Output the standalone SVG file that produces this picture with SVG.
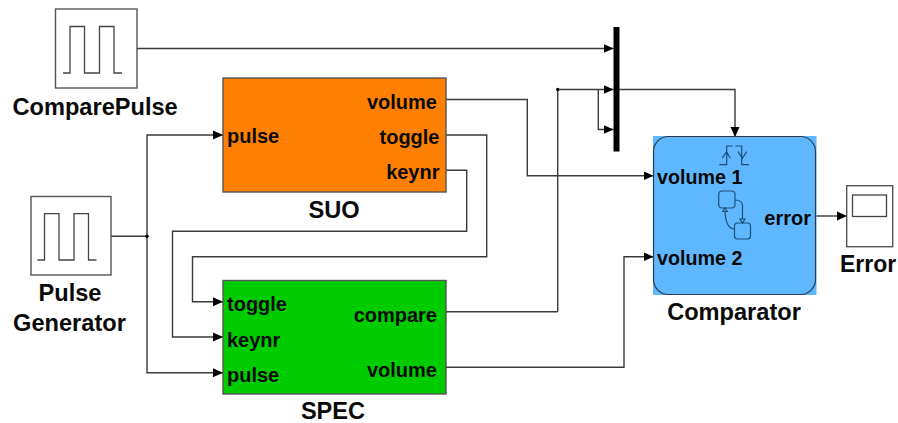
<svg xmlns="http://www.w3.org/2000/svg" width="898" height="423" viewBox="0 0 898 423">
<defs>
<marker id="arr" markerUnits="userSpaceOnUse" markerWidth="10" markerHeight="10" refX="10" refY="5" orient="auto"><path d="M0,0.5 L10,5 L0,9.5 Z" fill="#000"/></marker>
</defs>
<style>
text{font-family:"Liberation Sans",Arial,sans-serif;font-weight:bold;fill:#0a0a0a;font-size:20px}
.port{font-size:19.7px}
.lab{font-size:23.6px}
.e{text-anchor:end}
.m{text-anchor:middle}
.wire{fill:none;stroke:#3a3a3a;stroke-width:1.4}
.a{marker-end:url(#arr)}
.blk{stroke:#555;stroke-width:1.4}
.src{fill:#fff;stroke:#555;stroke-width:1.4}
.ic{fill:none;stroke:#444;stroke-width:1.3}
.sf{fill:none;stroke:#1f4f78;stroke-width:1.2}
</style>
<rect width="898" height="423" fill="#fff"/>
<g id="connectors">
<path class="wire a" d="M137,48.5H613.5"/>
<path class="wire a" d="M557.7,311.7H446M557.7,311.7V89.5H613.5"/>
<path class="wire a" d="M598.3,89.5V129.5H613.5"/>
<path class="wire a" d="M619,89.5H735V137"/>
<path class="wire a" d="M446,99.5H527.3V175.7H653.5"/>
<path class="wire a" d="M446,367.3H624V256.7H653.5"/>
<path class="wire a" d="M446,135H486.7V256.7H192.5V301.7H223"/>
<path class="wire a" d="M446,170.3H466.7V231.3H172.5V337H223"/>
<path class="wire" d="M111,236.3H147"/>
<path class="wire a" d="M147,236.3V135H223"/>
<path class="wire a" d="M147,236.3V372.7H223"/>
<path class="wire a" d="M815.7,216H847"/>
<circle cx="147" cy="236.3" r="1.7" fill="#000"/>
<circle cx="557.7" cy="89.5" r="1.7" fill="#000"/>
</g>
<g id="comparepulse">
<rect class="src" x="55.5" y="9" width="81.5" height="79"/>
<path class="ic" d="M63,73H70V26.5H84.5V73H99.5V26.5H114V73H122"/>
<text class="lab" x="12.5" y="115">ComparePulse</text>
</g>
<g id="pulse-generator">
<rect class="src" x="31" y="196.5" width="80" height="78.5"/>
<path class="ic" d="M37.5,260H44.5V213.7H59V260H74V213.7H88.5V260H96.5"/>
<text class="lab m" x="70" y="301">Pulse</text>
<text class="lab m" x="69.5" y="331">Generator</text>
</g>
<g id="suo">
<rect class="blk" x="223" y="78" width="223" height="114" fill="#ff8000"/>
<text x="227" y="143">pulse</text>
<text class="e" x="437" y="108.5">volume</text>
<text class="e" x="439.5" y="144">toggle</text>
<text class="e" x="439.5" y="179">keynr</text>
<text class="lab m" x="334" y="218">SUO</text>
</g>
<g id="spec">
<rect class="blk" x="223" y="280.5" width="223" height="113.5" fill="#00cc00"/>
<text x="227" y="310.7">toggle</text>
<text x="227" y="346.7">keynr</text>
<text x="227" y="381.7">pulse</text>
<text class="e" x="437" y="321.7">compare</text>
<text class="e" x="437" y="376.7">volume</text>
<text class="lab m" x="333" y="419">SPEC</text>
</g>
<g id="mux">
<rect x="613.5" y="27" width="6" height="124.5" fill="#000"/>
</g>
<g id="comparator">
<rect x="653" y="136" width="163.5" height="159" fill="#5fb8ff"/>
<rect x="653.5" y="136.5" width="162" height="158" rx="15" ry="15" fill="#5fb8ff" stroke="#2b3b4a" stroke-width="1.2"/>
<path class="sf" d="M719.3,164.7H726.7V146H732.7M722.3,158.3L726.5,151.7L730.3,158.3M735.3,146H741.7V164.7H749M738,151.7L742.3,158.3L746.7,151.7"/>
<rect class="sf" x="718.7" y="191" width="16.3" height="17" rx="3.5"/>
<rect class="sf" x="734.5" y="223" width="16" height="16" rx="3"/>
<path class="sf" d="M735,200C740,200 742.5,202 742.5,206V219M725,211C725.5,222 728,229 734.5,229"/>
<path class="sf" d="M740,219H745L742.5,223ZM722.8,211.5H727.2L725,208Z"/>
<text class="port" x="657" y="184">volume 1</text>
<text class="port" x="657" y="265">volume 2</text>
<text class="e" x="811" y="225">error</text>
<text class="lab m" x="734" y="320">Comparator</text>
</g>
<g id="error">
<rect class="src" x="846.7" y="185.7" width="46" height="61"/>
<rect class="ic" x="852.5" y="195" width="34" height="21.5"/>
<text class="lab" x="840" y="271.7" style="font-size:23px">Error</text>
</g>
</svg>
